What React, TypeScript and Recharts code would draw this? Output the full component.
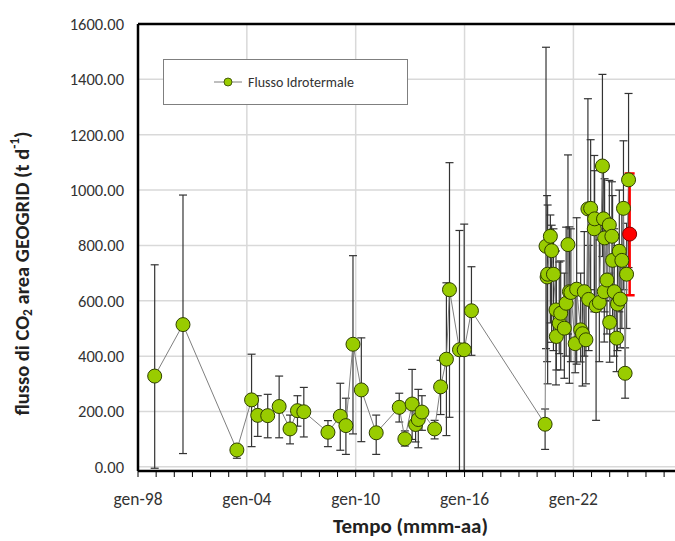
import React from 'react';
import {
  ComposedChart,
  Line,
  XAxis,
  YAxis,
  CartesianGrid,
  ErrorBar,
  ReferenceLine,
  Legend,
} from 'recharts';

// decimal year of each survey
const dates = [
  1998.92, 2000.48, 2003.45, 2004.26, 2004.6, 2005.15, 2005.78, 2006.38, 2006.79, 2007.14,
  2008.47, 2009.15, 2009.46, 2009.85, 2010.31, 2011.13, 2012.4, 2012.71, 2013.11, 2013.3,
  2013.45, 2013.65, 2014.35, 2014.68, 2015.0, 2015.17, 2015.72, 2015.98, 2016.38,
  2020.44, 2020.49, 2020.55, 2020.58, 2020.73, 2020.8, 2020.9, 2021.04, 2021.06, 2021.22,
  2021.3, 2021.5, 2021.6, 2021.7, 2021.78, 2021.86, 2022.1, 2022.18, 2022.4, 2022.5,
  2022.6, 2022.69, 2022.8, 2022.84, 2022.95, 2023.15, 2023.17, 2023.25, 2023.43, 2023.6,
  2023.66, 2023.7, 2023.72, 2023.85, 2023.98, 2024.0, 2024.12, 2024.16, 2024.25, 2024.38,
  2024.43, 2024.53, 2024.58, 2024.67, 2024.76, 2024.85, 2024.93, 2025.04,
];

// CO2 flux (t/d)
const flux = [
  328, 514, 61, 242, 186, 185, 218, 137, 203, 199,
  125, 183, 149, 443, 278, 123, 215, 101, 227, 153,
  171, 198, 137, 289, 389, 640, 423, 423, 564,
  154, 797, 686, 696, 833, 781, 696, 567, 471, 519,
  555, 501, 591, 803, 633, 630, 445, 642, 495, 481,
  633, 459, 932, 605, 934, 860, 896, 582, 594, 1087,
  896, 633, 827, 675, 874, 522, 833, 746, 633, 465,
  588, 779, 606, 746, 934, 338, 696, 1037,
];

const errLow = [
  -5, 48, 31, 73, 110, 105, 105, 83, 147, 108,
  73, 60, 45, 119, 91, 45, 162, 75, 99, 90,
  69, 132, 101, 189, 113, 179, -15, -15, 403,
  63, 427, 380, 300, 520, 450, 420, 296, 350, 409,
  350, 320, 400, 480, 302, 380, 340, 371, 379, 292,
  400, 300, 600, 420, 640, 560, 600, 168, 380, 760,
  640, 451, 560, 480, 600, 378, 600, 520, 400, 344,
  420, 560, 430, 500, 640, 248, 500, 720,
];

const errHigh = [
  730, 982, 81, 407, 257, 262, 328, 187, 257, 287,
  167, 302, 248, 763, 466, 187, 266, 130, 352, 230,
  280, 257, 168, 385, 665, 1099, 854, 877, 723,
  209, 1516, 980, 946, 910, 873, 860, 780, 700, 740,
  744, 700, 866, 1127, 867, 860, 640, 900, 700, 650,
  850, 620, 1330, 800, 1182, 1125, 1070, 900, 820, 1418,
  1100, 850, 1041, 900, 1035, 700, 1030, 980, 860, 620,
  800, 1000, 780, 950, 1178, 430, 880, 1349,
];

// latest survey, highlighted in red
const lastDate = [2025.1];
const lastFlux = [841];
const lastLow = [620];
const lastHigh = [1060];

const yTicks = [0, 200, 400, 600, 800, 1000, 1200, 1400, 1600];
const xTicks = [
  1998, 1999, 2000, 2001, 2002, 2003, 2004, 2005, 2006, 2007, 2008, 2009, 2010, 2011, 2012,
  2013, 2014, 2015, 2016, 2017, 2018, 2019, 2020, 2021, 2022, 2023, 2024, 2025, 2026, 2027,
];
const majorYears = [1998, 2004, 2010, 2016, 2022];

const data = dates.map((t, i) => ({
  t,
  v: flux[i],
  err: [flux[i] - errLow[i], errHigh[i] - flux[i]],
}));

const lastData = lastDate.map((t, i) => ({
  t,
  v: lastFlux[i],
  err: [lastFlux[i] - lastLow[i], lastHigh[i] - lastFlux[i]],
}));

const FONT = 'Carlito, Lato, sans-serif';
const GREEN = '#99cc00';

const XTick = (props: any) => {
  const { x, y, payload } = props;
  if (!majorYears.includes(payload.value)) return <g />;
  const yy = String(payload.value % 100).padStart(2, '0');
  return (
    <text x={x} y={y} dy="0.71em" textAnchor="middle" fontSize={17.5} fill="#333" fontFamily={FONT}>
      {`gen-${yy}`}
    </text>
  );
};

const YTitle = (props: any) => {
  const { viewBox } = props;
  const cx = 22;
  const cy = viewBox.y + viewBox.height / 2 + 26;
  return (
    <text
      x={cx}
      y={cy}
      transform={`rotate(-90, ${cx}, ${cy})`}
      textAnchor="middle"
      dominantBaseline="central"
      fontWeight="bold"
      fontSize={20.5}
      fill="#222"
      fontFamily={FONT}
    >
      flusso di CO
      <tspan fontSize={13.5} dy={5}>2</tspan>
      <tspan dy={-5}> area GEOGRID (t d</tspan>
      <tspan fontSize={13.5} dy={-8}>-1</tspan>
      <tspan dy={8}>)</tspan>
    </text>
  );
};

const XTitle = (props: any) => {
  const { viewBox } = props;
  return (
    <text
      x={viewBox.x + viewBox.width / 2 + 4}
      y={viewBox.y + 62}
      textAnchor="middle"
      fontWeight="bold"
      fontSize={21}
      fill="#222"
      fontFamily={FONT}
    >
      Tempo (mmm-aa)
    </text>
  );
};

const LegendBox = () => (
  <div
    style={{
      width: 245,
      height: 46,
      boxSizing: 'border-box',
      border: '1.5px solid #7f7f7f',
      background: '#fff',
      display: 'flex',
      alignItems: 'center',
      paddingLeft: 50,
      fontFamily: FONT,
      fontSize: 14,
      color: '#333',
    }}
  >
    <svg width={30} height={12} style={{ marginRight: 4 }}>
      <line x1={0} y1={6} x2={28} y2={6} stroke="#7f7f7f" strokeWidth={1} />
      <circle cx={14} cy={6} r={4} fill={GREEN} stroke="#2f4000" strokeWidth={0.8} />
    </svg>
    <span>Flusso Idrotermale</span>
  </div>
);

export default function App() {
  return (
    <div
      style={{
        position: 'absolute',
        left: 0,
        top: 0,
        width: 675,
        height: 541,
        overflow: 'hidden',
        background: '#fff',
      }}
    >
      <ComposedChart width={675} height={541} margin={{ top: 24, right: 0, bottom: 0, left: 0 }}>
        <CartesianGrid horizontal vertical={false} stroke="#d9d9d9" strokeWidth={1.5} />
        {majorYears.slice(1).map((yr) => (
          <ReferenceLine key={yr} x={yr} stroke="#d9d9d9" strokeWidth={1.5} />
        ))}
        <XAxis
          type="number"
          dataKey="t"
          domain={[1998, 2027.6]}
          ticks={xTicks}
          interval={0}
          height={70}
          tick={<XTick />}
          tickSize={6}
          tickMargin={16}
          axisLine={{ stroke: '#000', strokeWidth: 2.5 }}
          tickLine={{ stroke: '#000' }}
          label={<XTitle />}
          allowDuplicatedCategory={false}
        />
        <YAxis
          type="number"
          domain={[0, 1600]}
          ticks={yTicks}
          width={138}
          tickFormatter={(v: number) => v.toFixed(2)}
          tick={{ fontSize: 16.5, fill: '#333', fontFamily: FONT }}
          tickLine={false}
          tickSize={0}
          tickMargin={14}
          axisLine={{ stroke: '#000', strokeWidth: 2.5 }}
          label={<YTitle />}
        />
        <ReferenceLine y={1600} stroke="#000" strokeWidth={2.5} />
        <Legend
          layout="horizontal"
          verticalAlign="middle"
          align="center"
          content={<LegendBox />}
          wrapperStyle={{ left: 163, top: 59, width: 245, height: 46 }}
        />
        <Line
          data={data}
          dataKey="v"
          name="Flusso Idrotermale"
          type="linear"
          stroke="#7f7f7f"
          strokeWidth={1}
          dot={{ r: 7, fill: GREEN, stroke: '#2f4000', strokeWidth: 1 }}
          activeDot={false}
          isAnimationActive={false}
        >
          <ErrorBar
            dataKey="err"
            direction="y"
            width={4}
            stroke="#333"
            strokeWidth={1.2}
            isAnimationActive={false}
          />
        </Line>
        <Line
          data={lastData}
          dataKey="v"
          name="ultimo"
          stroke="none"
          dot={{ r: 7, fill: '#ff0000', stroke: '#800000', strokeWidth: 1 }}
          activeDot={false}
          legendType="none"
          isAnimationActive={false}
        >
          <ErrorBar
            dataKey="err"
            direction="y"
            width={5}
            stroke="#ff0000"
            strokeWidth={2.5}
            isAnimationActive={false}
          />
        </Line>
      </ComposedChart>
    </div>
  );
}
